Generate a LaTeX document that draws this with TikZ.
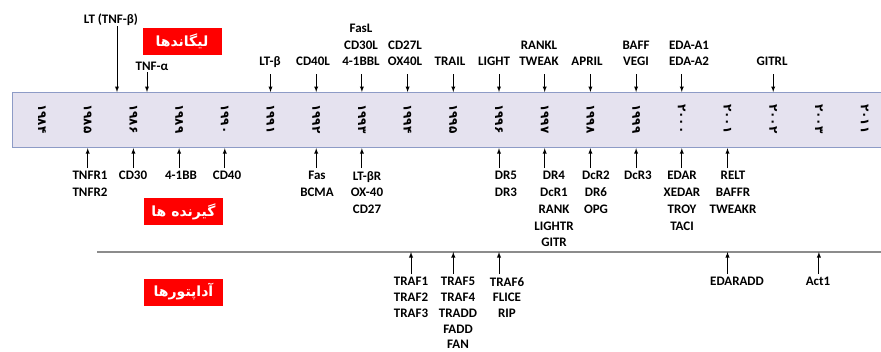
\documentclass[tikz,border=0pt]{standalone}
\usepackage{fontspec}
\setmainfont{Carlito}
\newfontfamily\farsi[Script=Arabic]{DejaVu Sans}
\TeXXeTstate=1
\usetikzlibrary{positioning}
\definecolor{axisfill}{HTML}{E5E2EF}
\definecolor{axisdraw}{HTML}{8D9BC6}
\definecolor{sepgray}{HTML}{8C8C8C}

\begin{document}
\begin{tikzpicture}[x=1pt,y=-1pt,font=\fontsize{13}{16.8}\selectfont\bfseries]
          \useasboundingbox[fill=white] (0,0) rectangle (881,351);
          % time axis
          \node[draw=axisdraw,fill=axisfill,line width=1.2pt,anchor=north west,minimum width=890pt,minimum height=55pt,inner sep=0pt] (axis) at (12,92) {};
          \coordinate (sepL) at (97,252);
          \coordinate (sepR) at (881,252);
          \draw[sepgray,line width=1.2pt] (sepL) -- (sepR);
          \coordinate (ltcol) at (117,0);
          \coordinate (tnfacol) at (147,0);
          \begin{scope}[every node/.style={rotate=-90,inner sep=0pt,font=\farsi\bfseries\fontsize{12}{12}\selectfont}]
            \node (y84) at (42,119) {۱۹۸۴};
            \node (y85) at (87.7,119) {۱۹۸۵};
            \node (y86) at (133.4,119) {۱۹۸۶};
            \node (y89) at (179.1,119) {۱۹۸۹};
            \node (y90) at (224.8,119) {۱۹۹۰};
            \node (y91) at (270.5,119) {۱۹۹۱};
            \node (y92) at (316.2,119) {۱۹۹۲};
            \node (y93) at (361.9,119) {۱۹۹۳};
            \node (y94) at (407.6,119) {۱۹۹۴};
            \node (y95) at (453.3,119) {۱۹۹۵};
            \node (y96) at (499,119) {۱۹۹۶};
            \node (y97) at (544.7,119) {۱۹۹۷};
            \node (y98) at (590.4,119) {۱۹۹۸};
            \node (y99) at (636.1,119) {۱۹۹۹};
            \node (y00) at (681.8,119) {۲۰۰۰};
            \node (y01) at (727.5,119) {۲۰۰۱};
            \node (y02) at (773.2,119) {۲۰۰۲};
            \node (y03) at (818.9,119) {۲۰۰۳};
            \node (y11) at (864.6,119) {۲۰۱۱};
          \end{scope}
          \begin{scope}[every node/.style={fill=red,text=white,minimum width=79pt,minimum height=27pt,inner sep=0pt,font=\farsi\bfseries\fontsize{14}{14}\selectfont}]
            \node (ligands) at (182,41) {\beginR لیگاندها\endR};
            \node (receptors) at (183.5,211.5) {\beginR گیرنده ها\endR};
            \node (adaptors) at (183.5,292) {\beginR آداپتورها\endR};
          \end{scope}
          % ligands
          \begin{scope}[every node/.style={anchor=south,align=center,inner sep=0pt,text depth=0pt}]
            \node (ltb) at (111,24) {LT (TNF-β)};
            \node (tnfa) at (152,71) {TNF-α};
            \node (ltbeta) at (270,66) {LT-β};
            \node (cd40l) at (313,66) {CD40L};
            \node (fasl) at (361,66) {FasL\\CD30L\\4-1BBL};
            \node (cd27l) at (405,66) {CD27L\\OX40L};
            \node (trail) at (450,66) {TRAIL};
            \node (light) at (494,66) {LIGHT};
            \node (rankl) at (539,66) {RANKL\\TWEAK};
            \node (april) at (587,66) {APRIL};
            \node (baff) at (636,66) {BAFF\\VEGI};
            \node (eda) at (689,66) {EDA-A1\\EDA-A2};
            \node (gitrl) at (772,66) {GITRL};
          \end{scope}
          % receptors
          \begin{scope}[every node/.style={anchor=north,align=center,inner sep=0pt}]
            \node (tnfr) at (90,171) {TNFR1\\TNFR2};
            \node (cd30) at (133,171) {CD30};
            \node (fourbb) at (181,171) {4-1BB};
            \node (cd40) at (227,171) {CD40};
            \node (fas) at (317,171) {Fas\\BCMA};
            \node (ltbr) at (367,171) {LT-βR\\OX-40\\CD27};
            \node (dr5) at (506,171) {DR5\\DR3};
            \node (dr4) at (554,171) {DR4\\DcR1\\RANK\\LIGHTR\\GITR};
            \node (dcr2) at (596,171) {DcR2\\DR6\\OPG};
            \node (dcr3) at (638,171) {DcR3};
            \node (edar) at (682,171) {EDAR\\XEDAR\\TROY\\TACI};
            \node (relt) at (733,171) {RELT\\BAFFR\\TWEAKR};
          \end{scope}
          % adaptors
          \begin{scope}[every node/.style={anchor=north,align=center,inner sep=0pt,font=\fontsize{13}{15.8}\selectfont\bfseries}]
            \node (traf1) at (411,277) {TRAF1\\TRAF2\\TRAF3};
            \node (traf5) at (458,277) {TRAF5\\TRAF4\\TRADD\\FADD\\FAN};
            \node (traf6) at (507,277) {TRAF6\\FLICE\\RIP};
            \node (edaradd) at (737,277) {EDARADD};
            \node (act1) at (818,277) {Act1};
          \end{scope}
          \begin{scope}[every path/.style={->},>=latex,line width=0.9pt]
            \draw[shorten <=2pt] (ltb.south -| ltcol) -- (ltcol |- axis.north);
            \draw[shorten <=1pt] (tnfa.south -| tnfacol) -- (tnfacol |- axis.north);
            \draw[shorten <=8pt] (ltbeta.south -| y91) -- (y91 |- axis.north);
            \draw[shorten <=8pt] (cd40l.south -| y92) -- (y92 |- axis.north);
            \draw[shorten <=8pt] (fasl.south -| y93) -- (y93 |- axis.north);
            \draw[shorten <=8pt] (cd27l.south -| y94) -- (y94 |- axis.north);
            \draw[shorten <=8pt] (trail.south -| y95) -- (y95 |- axis.north);
            \draw[shorten <=8pt] (light.south -| y96) -- (y96 |- axis.north);
            \draw[shorten <=8pt] (rankl.south -| y97) -- (y97 |- axis.north);
            \draw[shorten <=8pt] (april.south -| y98) -- (y98 |- axis.north);
            \draw[shorten <=8pt] (baff.south -| y99) -- (y99 |- axis.north);
            \draw[shorten <=8pt] (eda.south -| y00) -- (y00 |- axis.north);
            \draw[shorten <=8pt] (gitrl.south -| y02) -- (y02 |- axis.north);
            \draw[shorten <=3pt] (tnfr.north -| y85) -- (y85 |- axis.south);
            \draw[shorten <=3pt] (cd30.north -| y86) -- (y86 |- axis.south);
            \draw[shorten <=3pt] (fourbb.north -| y89) -- (y89 |- axis.south);
            \draw[shorten <=3pt] (cd40.north -| y90) -- (y90 |- axis.south);
            \draw[shorten <=3pt] (fas.north -| y92) -- (y92 |- axis.south);
            \draw[shorten <=3pt] (ltbr.north -| y93) -- (y93 |- axis.south);
            \draw[shorten <=3pt] (dr5.north -| y96) -- (y96 |- axis.south);
            \draw[shorten <=3pt] (dr4.north -| y97) -- (y97 |- axis.south);
            \draw[shorten <=3pt] (dcr2.north -| y98) -- (y98 |- axis.south);
            \draw[shorten <=3pt] (dcr3.north -| y99) -- (y99 |- axis.south);
            \draw[shorten <=3pt] (edar.north -| y00) -- (y00 |- axis.south);
            \draw[shorten <=3pt] (relt.north -| y01) -- (y01 |- axis.south);
            \draw[shorten <=3pt] (traf1.north) -- (traf1.north |- sepL);
            \draw[shorten <=3pt] (traf5.north -| y95) -- (y95 |- sepL);
            \draw[shorten <=3pt] (traf6.north -| y96) -- (y96 |- sepL);
            \draw[shorten <=3pt] (edaradd.north -| y01) -- (y01 |- sepL);
            \draw[shorten <=3pt] (act1.north -| y03) -- (y03 |- sepL);
          \end{scope}
        \end{tikzpicture}
\end{document}
